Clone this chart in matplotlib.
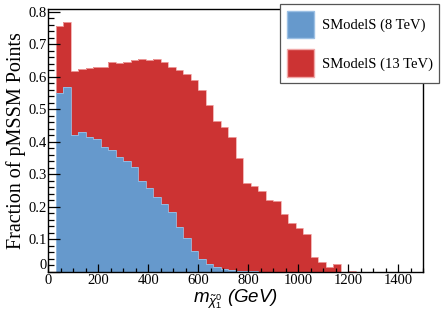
import numpy as np
import matplotlib
matplotlib.use("Agg")
import matplotlib.pyplot as plt
from matplotlib.patches import Patch
from matplotlib.ticker import MultipleLocator

plt.rcParams["font.family"] = ["Liberation Serif", "DejaVu Serif"]
plt.rcParams["mathtext.fontset"] = "custom"
plt.rcParams["mathtext.it"] = "Liberation Sans:italic"
plt.rcParams["mathtext.rm"] = "Liberation Sans"

# bins of 30 GeV starting at 30 GeV
bin_lo = 30
bin_w = 30

frac_13tev = [0.757, 0.769, 0.617, 0.622, 0.627, 0.631, 0.631, 0.646, 0.642, 0.645,
              0.652, 0.655, 0.650, 0.654, 0.645, 0.630, 0.620, 0.608, 0.589, 0.559,
              0.514, 0.462, 0.446, 0.414, 0.349, 0.272, 0.263, 0.247, 0.221, 0.216,
              0.177, 0.149, 0.134, 0.116, 0.046, 0.031, 0.014, 0.023, 0.0, 0.003]
frac_8tev = [0.549, 0.569, 0.421, 0.429, 0.415, 0.407, 0.385, 0.374, 0.354, 0.340,
             0.321, 0.279, 0.258, 0.230, 0.207, 0.184, 0.138, 0.103, 0.063, 0.040,
             0.024, 0.0145, 0.009, 0.006, 0.003, 0.002, 0.001, 0.0, 0.0, 0.0,
             0.0, 0.0, 0.0, 0.0, 0.0, 0.0, 0.0, 0.0, 0.0, 0.0]

labels = ["SModelS (8 TeV)", "SModelS (13 TeV)"]
c_blue = "#6699cc"
c_red = "#cc3333"

edges = bin_lo + bin_w * np.arange(len(frac_13tev) + 1)

fig = plt.figure(figsize=(4.45, 3.19), dpi=100)
ax = fig.add_axes([0.1085, 0.1483, 0.8421, 0.8225])

ax.stairs(frac_13tev, edges, fill=True, color=c_red)
ax.stairs(frac_13tev, edges, color="#f0a8a8", lw=0.6)
ax.stairs(frac_8tev, edges, fill=True, color=c_blue)
ax.stairs(frac_8tev, edges, color="#9cc0e4", lw=0.6)

ax.set_xlim(0, 1500)
ax.set_ylim(0, 0.807)

ax.xaxis.set_major_locator(MultipleLocator(200))
ax.xaxis.set_minor_locator(MultipleLocator(50))
ax.yaxis.set_major_locator(MultipleLocator(0.1))
ax.yaxis.set_minor_locator(MultipleLocator(0.02))
ax.set_yticks(np.arange(0, 0.81, 0.1), ["0"] + ["%.1f" % v for v in np.arange(0.1, 0.81, 0.1)])

ax.tick_params(which="both", direction="in", top=False, right=False, labelsize=10.5, width=0.9)
ax.tick_params(axis="x", which="major", length=5.8, pad=2)
ax.tick_params(axis="x", which="minor", length=3)
ax.tick_params(axis="y", which="major", length=8.4, pad=1)
ax.tick_params(axis="y", which="minor", length=4.3)
for s in ax.spines.values():
    s.set_linewidth(1.0)
ax.set_axisbelow(False)
# ROOT puts the y "0" a little above the corner
ax.get_yticklabels()[0].set_verticalalignment("bottom")

ax.set_ylabel("Fraction of pMSSM Points", fontsize=14.5, labelpad=2)
ax.set_xlabel(r"$m_{\tilde{\chi}^{0}_{1}}$ (GeV)", fontsize=13.5, family="Liberation Sans",
              style="italic", labelpad=0)

handles = [Patch(facecolor=c_blue, edgecolor="#9cc0e4"), Patch(facecolor=c_red, edgecolor="#f0a8a8")]
leg = fig.legend(handles, labels, loc="upper left", bbox_to_anchor=(280 / 445, 1 - 4 / 319),
                 fontsize=10.5, frameon=True, fancybox=False, handlelength=1.9, handleheight=2.5,
                 borderpad=0.45, labelspacing=0.8, handletextpad=0.5, borderaxespad=0)
leg.get_frame().set_edgecolor("#555555")
leg.get_frame().set_linewidth(0.9)
leg.get_frame().set_alpha(1)

fig.savefig("out.png", dpi=100)
